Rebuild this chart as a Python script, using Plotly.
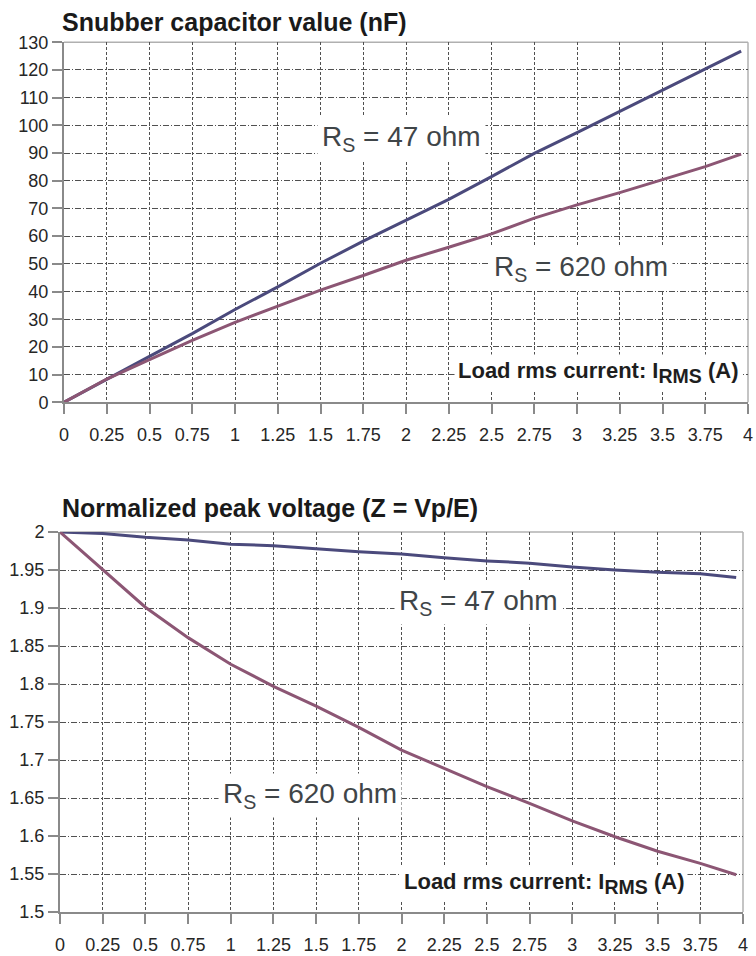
import plotly.graph_objects as go

# ---- data ----
current = [0, 0.25, 0.5, 0.75, 1.0, 1.25, 1.5, 1.75, 2.0, 2.25, 2.5, 2.75,
           3.0, 3.25, 3.5, 3.75, 3.96]

cap_47 = [0, 8.4, 16.6, 24.8, 33.5, 41.7, 50.2, 58.2, 65.8, 73.3, 81.5, 89.9,
          97.4, 105.0, 112.8, 120.3, 126.8]
cap_620 = [0, 8.4, 15.4, 22.4, 28.9, 34.7, 40.5, 45.8, 51.3, 56.0, 60.8, 66.5,
           71.3, 75.7, 80.5, 85.1, 89.6]

z_47 = [2.0, 1.998, 1.993, 1.9895, 1.984, 1.982, 1.978, 1.974, 1.971, 1.966,
        1.962, 1.959, 1.954, 1.950, 1.947, 1.945, 1.940]
z_620 = [2.0, 1.950, 1.901, 1.861, 1.826, 1.797, 1.771, 1.743, 1.713, 1.689,
         1.665, 1.643, 1.620, 1.599, 1.580, 1.564, 1.549]

x_tick_vals = [0, 0.25, 0.5, 0.75, 1, 1.25, 1.5, 1.75, 2, 2.25, 2.5, 2.75,
               3, 3.25, 3.5, 3.75, 4]
x_tick_text = ["0", "0.25", "0.5", "0.75", "1", "1.25", "1.5", "1.75", "2",
               "2.25", "2.5", "2.75", "3", "3.25", "3.5", "3.75", "4"]
cap_ticks = [0, 10, 20, 30, 40, 50, 60, 70, 80, 90, 100, 110, 120, 130]
z_tick_vals = [1.5, 1.55, 1.6, 1.65, 1.7, 1.75, 1.8, 1.85, 1.9, 1.95, 2.0]
z_tick_text = ["1.5", "1.55", "1.6", "1.65", "1.7", "1.75", "1.8", "1.85",
               "1.9", "1.95", "2"]

title_top = "Snubber capacitor value (nF)"
title_bottom = "Normalized peak voltage (Z = Vp/E)"
label_47 = "R<sub>S</sub> = 47 ohm"
label_620 = "R<sub>S</sub> = 620 ohm"
label_x = "Load rms current: I<sub><span style='font-size:19.5px'>RMS</span></sub> (A)"

# ---- style ----
W, H = 756, 956
C47 = "#4b4a7c"
C620 = "#8c5674"
AXC = "#8a8a8a"
GRIDC = "#505050"
FONT = "Liberation Sans, Arial, Helvetica, sans-serif"
TXT = "#262626"
RSC = "#3f4548"

fig = go.Figure()
fig.add_trace(go.Scatter(x=current, y=cap_47, mode="lines",
                         line=dict(color=C47, width=3), xaxis="x", yaxis="y"))
fig.add_trace(go.Scatter(x=current, y=cap_620, mode="lines",
                         line=dict(color=C620, width=3), xaxis="x", yaxis="y"))
fig.add_trace(go.Scatter(x=current, y=z_47, mode="lines",
                         line=dict(color=C47, width=3), xaxis="x2", yaxis="y2"))
fig.add_trace(go.Scatter(x=current, y=z_620, mode="lines",
                         line=dict(color=C620, width=3), xaxis="x2", yaxis="y2"))


def xaxis(domain, anchor):
    return dict(domain=domain, anchor=anchor, range=[0, 4],
                tickmode="array", tickvals=x_tick_vals, ticktext=x_tick_text,
                showline=True, linecolor=AXC, linewidth=2,
                ticks="outside", ticklen=10, tickwidth=2, tickcolor=AXC,
                ticklabelstandoff=5, automargin=False,
                showgrid=True, gridcolor=GRIDC, gridwidth=1,
                griddash="3px,2px", zeroline=False,
                tickfont=dict(family=FONT, size=18, color=TXT))


def yaxis(domain, anchor, rng, vals, text):
    return dict(domain=domain, anchor=anchor, range=rng,
                tickmode="array", tickvals=vals, ticktext=text,
                showline=True, linecolor=AXC, linewidth=2,
                ticks="outside", ticklen=10, tickwidth=2, tickcolor=AXC,
                automargin=False,
                showgrid=True, gridcolor=GRIDC, gridwidth=1,
                griddash="6px,2px,1px,2px", zeroline=False,
                tickfont=dict(family=FONT, size=18, color=TXT))


fig.update_layout(
    width=W, height=H, autosize=False,
    margin=dict(l=0, r=0, t=0, b=0, pad=0, autoexpand=False),
    paper_bgcolor="white", plot_bgcolor="white",
    showlegend=False,
    xaxis=xaxis([64 / W, 748 / W], "y"),
    yaxis=yaxis([1 - 402.3 / H, 1 - 42.3 / H], "x", [0, 130],
                cap_ticks, [str(v) for v in cap_ticks]),
    xaxis2=xaxis([60 / W, 743 / W], "y2"),
    yaxis2=yaxis([1 - 912 / H, 1 - 532 / H], "x2", [1.5, 2.0],
                 z_tick_vals, z_tick_text),
)

# top / right light borders
for xr, yr in (("x", "y"), ("x2", "y2")):
    fig.add_shape(type="line", xref=f"{xr} domain", yref=f"{yr} domain",
                  x0=0, x1=1, y0=1, y1=1, line=dict(color="#b0b0b0", width=1.5),
                  layer="below")
    fig.add_shape(type="line", xref=f"{xr} domain", yref=f"{yr} domain",
                  x0=1, x1=1, y0=0, y1=1, line=dict(color="#b0b0b0", width=1.5),
                  layer="below")

ann = []
ann.append(dict(text=f"<b>{title_top}</b>", xref="paper", yref="paper",
                x=60 / W, y=1 - 22 / H, xanchor="left", yanchor="middle",
                showarrow=False, font=dict(family=FONT, size=25, color="#1a1a1a")))
ann.append(dict(text=f"<b>{title_bottom}</b>", xref="paper", yref="paper",
                x=60 / W, y=1 - 508 / H, xanchor="left", yanchor="middle",
                showarrow=False, font=dict(family=FONT, size=25, color="#1a1a1a")))
rs_font = dict(family=FONT, size=28, color=RSC)
ann.append(dict(text=label_47, xref="x", yref="y", x=1.48, y=95.4,
                xanchor="left", yanchor="middle", showarrow=False,
                bgcolor="white", borderpad=4, font=rs_font))
ann.append(dict(text=label_620, xref="x", yref="y", x=2.485, y=48.2,
                xanchor="left", yanchor="middle", showarrow=False,
                bgcolor="white", borderpad=4, font=rs_font))
ann.append(dict(text=label_47, xref="x2", yref="y2", x=1.958, y=1.9075,
                xanchor="left", yanchor="middle", showarrow=False,
                bgcolor="white", borderpad=4, font=rs_font))
ann.append(dict(text=label_620, xref="x2", yref="y2", x=0.925, y=1.6535,
                xanchor="left", yanchor="middle", showarrow=False,
                bgcolor="white", borderpad=4, font=rs_font))
lx_font = dict(family=FONT, size=22, color="#1e1e1e")
ann.append(dict(text=f"<b>{label_x}</b>", xref="x", yref="y", x=3.965, y=10.6,
                xanchor="right", yanchor="middle", showarrow=False,
                bgcolor="white", borderpad=3, font=lx_font))
ann.append(dict(text=f"<b>{label_x}</b>", xref="x2", yref="y2", x=3.68, y=1.5375,
                xanchor="right", yanchor="middle", showarrow=False,
                bgcolor="white", borderpad=3, font=lx_font))

fig.update_layout(annotations=ann)

fig.write_html(
    "out.html",
    config={"displayModeBar": False},
    post_script="document.body.style.margin='0px';document.body.style.padding='0px';"
                "document.documentElement.style.overflow='hidden';",
)
